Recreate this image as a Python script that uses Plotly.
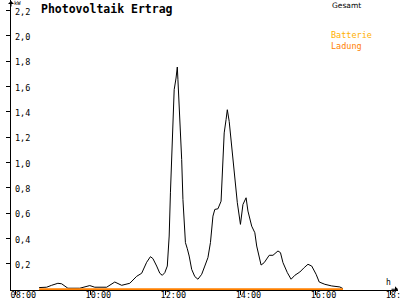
import plotly.graph_objects as go
import pandas as pd

DAY = "2024-06-01 "

times = ["08:38", "08:50", "08:58", "09:08", "09:14", "09:24", "09:43", "09:53", "09:59", "10:07",
         "10:26", "10:39", "10:50", "11:03", "11:14", "11:22", "11:30", "11:36", "11:40", "11:46",
         "11:51", "11:55", "11:59", "12:03", "12:06", "12:08", "12:12", "12:14", "12:17", "12:19",
         "12:20", "12:23", "12:26", "12:28", "12:32", "12:35", "12:38", "12:42", "12:47", "12:52",
         "12:58", "13:03", "13:08", "13:12", "13:16", "13:19", "13:24", "13:29", "13:31", "13:34",
         "13:37", "13:39", "13:42", "13:45", "13:48", "13:51", "13:55", "14:00", "14:04", "14:09",
         "14:12", "14:18", "14:23", "14:26", "14:33", "14:38", "14:46", "14:52", "15:00", "15:04",
         "15:08", "15:15", "15:21", "15:27", "15:35", "15:42", "15:48", "15:54", "16:01", "16:06",
         "16:15", "16:26", "16:39", "16:44"]
gesamt_kw = [0.013, 0.016, 0.031, 0.047, 0.043, 0.008, 0.008, 0.020, 0.029, 0.016,
             0.016, 0.057, 0.031, 0.047, 0.102, 0.126, 0.213, 0.257, 0.242, 0.183,
             0.126, 0.110, 0.131, 0.183, 0.420, 0.761, 1.234, 1.575, 1.667, 1.754,
             1.654, 1.365, 1.024, 0.709, 0.368, 0.320, 0.262, 0.157, 0.100, 0.079,
             0.118, 0.183, 0.250, 0.368, 0.577, 0.630, 0.635, 0.695, 0.945, 1.234,
             1.339, 1.417, 1.325, 1.181, 1.024, 0.866, 0.683, 0.512, 0.669, 0.722,
             0.617, 0.498, 0.446, 0.341, 0.191, 0.210, 0.268, 0.268, 0.302, 0.289,
             0.210, 0.131, 0.079, 0.110, 0.136, 0.171, 0.197, 0.183, 0.118, 0.057,
             0.039, 0.026, 0.018, 0.005]
ladung_times = ["08:38", "16:44"]
ladung_kw = [0.0, 0.0]

y_ticks = [0.2, 0.4, 0.6, 0.8, 1.0, 1.2, 1.4, 1.6, 1.8, 2.0, 2.2]
y_tick_labels = ["0,2", "0,4", "0,6", "0,8", "1,0", "1,2", "1,4", "1,6", "1,8", "2,0", "2,2"]
x_ticks = ["08:00", "10:00", "12:00", "14:00", "16:00", "18:00"]
x_range = ["07:53", "18:12"]
y_range = [-0.006, 2.283]

t = pd.to_datetime([DAY + s for s in times])
tl = pd.to_datetime([DAY + s for s in ladung_times])

MONO = "DejaVu Sans Mono"

fig = go.Figure()
fig.add_trace(go.Scatter(x=t, y=gesamt_kw, mode="lines", name="Gesamt",
                         line=dict(color="black", width=1), showlegend=False))
fig.add_trace(go.Scatter(x=tl, y=ladung_kw, mode="lines", name="Ladung",
                         line=dict(color="#ff8000", width=2), showlegend=False))

annotations = [
    dict(text="<b>Photovoltaik Ertrag</b>", xref="paper", yref="paper", x=0.072, y=1.0,
         xanchor="left", yanchor="top", showarrow=False,
         font=dict(family=MONO, size=11.5, color="black")),
    dict(text="kW", xref="paper", yref="paper", x=0.006, y=1.0, yshift=1,
         xanchor="left", yanchor="top", showarrow=False, borderpad=0,
         font=dict(family=MONO, size=5.5, color="black")),
    dict(text="h", xref="paper", yref="paper", x=0.965, y=0.0, yshift=1,
         xanchor="left", yanchor="bottom", showarrow=False,
         font=dict(family=MONO, size=8, color="black")),
    dict(text="Gesamt", xref="paper", yref="paper", x=0.825, y=1.005,
         xanchor="left", yanchor="top", showarrow=False,
         font=dict(family="DejaVu Sans", size=7.5, color="black")),
    dict(text="<span style='color:#ffb000'>Batterie</span><br><span style='color:#ff8000'>Ladung</span>",
         xref="paper", yref="paper", x=0.823, y=0.9, align="left",
         xanchor="left", yanchor="top", showarrow=False, borderpad=0,
         font=dict(family=MONO, size=8.5, color="#ff8000")),
    # axis arrows
    dict(x=0, y=1, xref="paper", yref="paper", ax=0, ay=8,
         showarrow=True, arrowhead=1, arrowsize=1, arrowwidth=1, arrowcolor="black", text=""),
    dict(x=1, y=0.0026, xref="paper", yref="paper", ax=-8, ay=0,
         showarrow=True, arrowhead=1, arrowsize=1, arrowwidth=1, arrowcolor="black", text=""),
]
for v, lab in zip(y_ticks, y_tick_labels):
    annotations.append(dict(text=lab, xref="paper", yref="y", x=0, y=v, xshift=3, yshift=-1,
                            xanchor="left", yanchor="middle", showarrow=False, borderpad=0,
                            font=dict(family=MONO, size=8.5, color="black")))

fig.update_layout(
    width=400, height=300,
    margin=dict(l=11, r=2, t=0, b=10, autoexpand=False),
    paper_bgcolor="white", plot_bgcolor="white",
    showlegend=False,
    xaxis=dict(
        type="date",
        range=[DAY + x_range[0], DAY + x_range[1]],
        tickvals=[DAY + s for s in x_ticks],
        ticktext=x_ticks,
        ticks="outside", ticklen=4, tickcolor="black", tickwidth=1,
        ticklabeloverflow="allow", automargin=False,
        ticklabelstandoff=-7, ticklabelshift=8,
        showline=True, linecolor="black", linewidth=1,
        showgrid=False, zeroline=False, layer="below traces",
        tickfont=dict(family=MONO, size=8.5, color="black"),
    ),
    yaxis=dict(
        range=y_range,
        tickvals=y_ticks,
        showticklabels=False, automargin=False,
        ticks="outside", ticklen=4, tickcolor="black", tickwidth=1,
        showline=True, linecolor="black", linewidth=1,
        showgrid=False, zeroline=False,
    ),
    annotations=annotations,
)

fig.write_html("out.html")
